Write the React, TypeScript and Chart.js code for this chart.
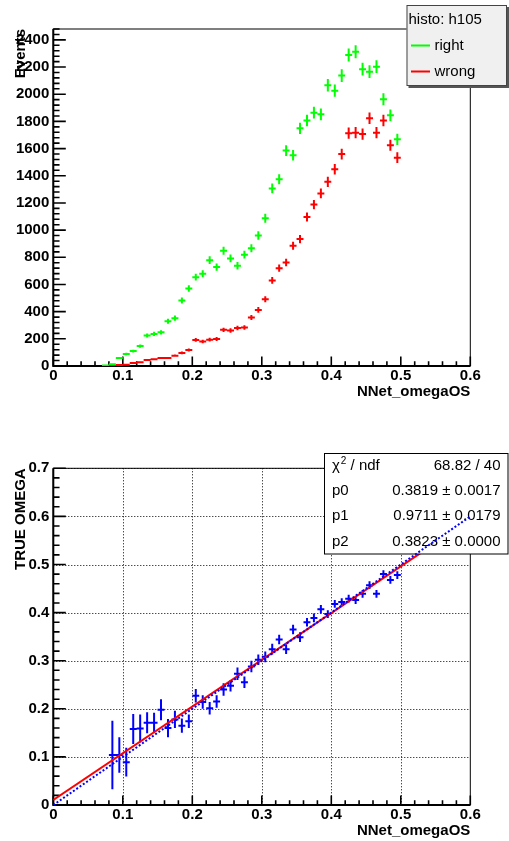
import React, { useEffect, useRef } from 'react';
import { Chart, registerables } from 'chart.js';

Chart.register(...registerables);

const FONT = '"Liberation Sans", Arial, Helvetica, sans-serif';

// ---------- data ----------
const binCenters = [
  0.075, 0.085, 0.095, 0.105, 0.115, 0.125, 0.135, 0.145, 0.155, 0.165, 0.175,
  0.185, 0.195, 0.205, 0.215, 0.225, 0.235, 0.245, 0.255, 0.265, 0.275, 0.285,
  0.295, 0.305, 0.315, 0.325, 0.335, 0.345, 0.355, 0.365, 0.375, 0.385, 0.395,
  0.405, 0.415, 0.425, 0.435, 0.445, 0.455, 0.465, 0.475, 0.485, 0.495,
];
const rightCounts = [
  3, 12, 59, 88, 110, 147, 224, 236, 248, 330, 352,
  482, 570, 654, 679, 779, 728, 848, 792, 738, 819, 866,
  961, 1087, 1307, 1374, 1585, 1551, 1749, 1806, 1864, 1852, 2066,
  2026, 2137, 2289, 2313, 2184, 2166, 2203, 1963, 1845, 1668,
];
const wrongCounts = [
  0, 2, 7, 10, 22, 27, 44, 49, 59, 59, 76,
  96, 118, 192, 180, 194, 199, 266, 261, 280, 283, 357,
  413, 492, 630, 720, 762, 885, 934, 1097, 1188, 1270, 1355,
  1448, 1560, 1713, 1717, 1707, 1823, 1717, 1806, 1624, 1533,
];

const omegaBins = [
  0.085, 0.095, 0.105, 0.115, 0.125, 0.135, 0.145, 0.155, 0.165, 0.175,
  0.185, 0.195, 0.205, 0.215, 0.225, 0.235, 0.245, 0.255, 0.265, 0.275, 0.285,
  0.295, 0.305, 0.315, 0.325, 0.335, 0.345, 0.355, 0.365, 0.375, 0.385, 0.395,
  0.405, 0.415, 0.425, 0.435, 0.445, 0.455, 0.465, 0.475, 0.485, 0.495,
];
const omegaValues = [
  0.104, 0.104, 0.089, 0.158, 0.159, 0.171, 0.171, 0.198, 0.160, 0.178,
  0.165, 0.174, 0.227, 0.214, 0.201, 0.215, 0.240, 0.248, 0.273, 0.255, 0.288,
  0.302, 0.308, 0.324, 0.344, 0.324, 0.365, 0.349, 0.380, 0.389, 0.407, 0.397,
  0.418, 0.422, 0.429, 0.426, 0.439, 0.457, 0.439, 0.480, 0.468, 0.478,
];
const omegaErrors = [
  0.071, 0.037, 0.030, 0.031, 0.029, 0.022, 0.021, 0.022, 0.019, 0.018,
  0.015, 0.014, 0.014, 0.014, 0.013, 0.013, 0.013, 0.012, 0.013, 0.012, 0.012,
  0.011, 0.011, 0.011, 0.010, 0.010, 0.010, 0.010, 0.009, 0.009, 0.009, 0.008,
  0.008, 0.008, 0.008, 0.008, 0.008, 0.008, 0.008, 0.008, 0.008, 0.008,
];

const fitLineX = [0, 0.6];
const fitLineY = [0.0106, 0.5933];
const refLineX = [0, 0.6];
const refLineY = [0, 0.6];

const xTickValues = [0, 0.1, 0.2, 0.3, 0.4, 0.5, 0.6];
const topYTickValues = [0, 200, 400, 600, 800, 1000, 1200, 1400, 1600, 1800, 2000, 2200, 2400];
const bottomYTickValues = [0, 0.1, 0.2, 0.3, 0.4, 0.5, 0.6, 0.7];

const xTitle = 'NNet_omegaOS';
const topYTitle = 'Events';
const bottomYTitle = 'TRUE OMEGA';
const legendHeader = 'histo: h105';
const legendLabels = ['right', 'wrong'];
const legendColors = ['#00ff00', '#ff0000'];
const chi2Label = 'ndf';
const chi2Value = '68.82 / 40';
const fitParamNames = ['p0', 'p1', 'p2'];
const fitParamValues = ['0.3819', '0.9711', '0.3823'];
const fitParamErrors = ['0.0017', '0.0179', '0.0000'];

// ---------- helpers ----------
const fmtDec = (v: number) => (v === 0 ? '0' : String(Math.round(v * 10) / 10));

function stepsBetween(min: number, max: number, step: number) {
  const n = Math.round((max - min) / step);
  const out: number[] = [];
  for (let i = 0; i <= n; i++) out.push(min + i * step);
  return out;
}

const framePlugin = {
  id: 'rootFrame',
  beforeDatasetsDraw(chart: any, _args: any, opts: any) {
    const { ctx, chartArea: a } = chart;
    const xs = chart.scales.x;
    const ys = chart.scales.y;
    ctx.save();
    if (opts.grid) {
      ctx.strokeStyle = '#000';
      ctx.lineWidth = 1;
      ctx.setLineDash([1, 2]);
      ctx.beginPath();
      for (const v of opts.xMajor) {
        if (v <= xs.min || v >= xs.max) continue;
        const px = Math.round(xs.getPixelForValue(v)) + 0.5;
        ctx.moveTo(px, a.top);
        ctx.lineTo(px, a.bottom);
      }
      for (const v of opts.yMajor) {
        if (v <= ys.min || v > ys.max) continue;
        const py = Math.round(ys.getPixelForValue(v)) + 0.5;
        ctx.moveTo(a.left, py);
        ctx.lineTo(a.right, py);
      }
      ctx.stroke();
      ctx.setLineDash([]);
    }
    ctx.strokeStyle = '#000';
    ctx.lineWidth = 1.6;
    ctx.beginPath();
    for (const v of stepsBetween(xs.min, xs.max, opts.xMinor)) {
      const major = opts.xMajor.some((m: number) => Math.abs(m - v) < opts.xMinor * 0.01);
      const len = major ? opts.xLen : opts.xLen / 2;
      const px = xs.getPixelForValue(v);
      ctx.moveTo(px, a.bottom);
      ctx.lineTo(px, a.bottom - len);
    }
    for (const v of stepsBetween(ys.min, ys.max, opts.yMinor)) {
      const major = opts.yMajor.some((m: number) => Math.abs(m - v) < opts.yMinor * 0.01);
      const len = major ? opts.yLen : opts.yLen / 2;
      const py = ys.getPixelForValue(v);
      ctx.moveTo(a.left, py);
      ctx.lineTo(a.left + len, py);
    }
    ctx.stroke();
    ctx.lineWidth = 1;
    ctx.strokeRect(a.left, a.top, a.right - a.left, a.bottom - a.top);
    ctx.lineWidth = 2;
    ctx.beginPath();
    ctx.moveTo(a.left, a.top);
    ctx.lineTo(a.left, a.bottom);
    ctx.lineTo(a.right, a.bottom);
    ctx.stroke();
    ctx.restore();
  },
};

const errorBarPlugin = {
  id: 'errorBars',
  afterDatasetDraw(chart: any, args: any) {
    const ds = chart.data.datasets[args.index];
    if (!ds.errY) return;
    const { ctx, chartArea: a } = chart;
    const xs = chart.scales.x;
    const ys = chart.scales.y;
    ctx.save();
    ctx.beginPath();
    ctx.rect(a.left, a.top, a.right - a.left, a.bottom - a.top);
    ctx.clip();
    ctx.strokeStyle = ds.borderColor;
    ctx.lineWidth = 2;
    ctx.beginPath();
    ds.data.forEach((p: any, i: number) => {
      if (p.y <= 0) return;
      const e = ds.errY[i];
      const px = xs.getPixelForValue(p.x);
      const py = ys.getPixelForValue(p.y);
      ctx.moveTo(xs.getPixelForValue(p.x - ds.halfWidth), py);
      ctx.lineTo(xs.getPixelForValue(p.x + ds.halfWidth), py);
      ctx.moveTo(px, ys.getPixelForValue(p.y + e));
      ctx.lineTo(px, ys.getPixelForValue(p.y - e));
    });
    ctx.stroke();
    ctx.restore();
  },
};

const legendPlugin = {
  id: 'rootLegend',
  afterDraw(chart: any) {
    const { ctx } = chart;
    const L = 406.5, T = 5, R = 507, B = 86;
    ctx.save();
    ctx.fillStyle = '#555';
    ctx.fillRect(L + 2, T + 2, R - L, B - T);
    ctx.fillStyle = '#f0f0f0';
    ctx.fillRect(L, T, R - L, B - T);
    ctx.strokeStyle = '#444';
    ctx.lineWidth = 1;
    ctx.strokeRect(L + 0.5, T + 0.5, R - L - 1, B - T - 1);
    ctx.fillStyle = '#000';
    ctx.font = `15px ${FONT}`;
    ctx.textBaseline = 'middle';
    ctx.textAlign = 'left';
    ctx.fillText(legendHeader, 408.5, 19.5);
    legendLabels.forEach((lab, i) => {
      const cy = 45.5 + i * 26;
      ctx.strokeStyle = legendColors[i];
      ctx.lineWidth = 2;
      ctx.beginPath();
      ctx.moveTo(411, cy);
      ctx.lineTo(430, cy);
      ctx.stroke();
      ctx.fillStyle = '#000';
      ctx.fillText(lab, 434.5, cy);
    });
    ctx.restore();
  },
};

const statsPlugin = {
  id: 'statsBox',
  afterDatasetDraw(chart: any, args: any, opts: any) {
    if (args.index !== opts.afterIndex) return;
    const { ctx } = chart;
    const L = 324.5, T = 33.5, R = 508, B = 134;
    ctx.save();
    ctx.fillStyle = '#fff';
    ctx.fillRect(L, T, R - L, B - T);
    ctx.strokeStyle = '#000';
    ctx.lineWidth = 1;
    ctx.strokeRect(L, T, R - L, B - T);
    const rowH = (B - T) / 4;
    ctx.fillStyle = '#000';
    ctx.textBaseline = 'middle';
    ctx.font = `15px ${FONT}`;
    // chi2 row
    let cy = T + rowH * 0.5;
    ctx.textAlign = 'left';
    ctx.fillText('\u03c7', 332, cy);
    const wChi = ctx.measureText('\u03c7').width;
    ctx.font = `10px ${FONT}`;
    ctx.fillText('2', 332 + wChi + 1, cy - 5);
    const w2 = ctx.measureText('2').width;
    ctx.font = `15px ${FONT}`;
    ctx.fillText(' / ' + chi2Label, 332 + wChi + 1 + w2, cy);
    ctx.textAlign = 'right';
    ctx.fillText(chi2Value, 500.5, cy);
    fitParamNames.forEach((nm, i) => {
      cy = T + rowH * (i + 1.5);
      ctx.textAlign = 'left';
      ctx.fillText(nm, 332, cy);
      ctx.textAlign = 'right';
      ctx.fillText(`${fitParamValues[i]} \u00b1 ${fitParamErrors[i]}`, 500.5, cy);
    });
    ctx.restore();
  },
};

function xAxis(height: number, titlePad: number) {
  return {
    type: 'linear',
    min: 0,
    max: 0.6,
    afterBuildTicks: (s: any) => {
      s.ticks = xTickValues.map((v) => ({ value: v }));
    },
    afterFit: (s: any) => {
      s.height = height;
    },
    grid: { display: false, drawTicks: false },
    border: { display: false },
    ticks: {
      padding: 1,
      color: '#000',
      maxRotation: 0,
      autoSkip: false,
      font: { family: FONT, size: 15, weight: 'bold' },
      callback: (v: number) => fmtDec(v),
    },
    title: {
      display: true,
      text: xTitle,
      align: 'end',
      color: '#000',
      font: { family: FONT, size: 15, weight: 'bold' },
      padding: { top: 0, bottom: titlePad },
    },
  };
}

function yAxis(min: number, max: number, tickVals: number[], title: string, fmt: (v: number) => string) {
  return {
    type: 'linear',
    min,
    max,
    afterBuildTicks: (s: any) => {
      s.ticks = tickVals.map((v) => ({ value: v }));
    },
    afterFit: (s: any) => {
      s.width = 53.3;
    },
    grid: { display: false, drawTicks: false },
    border: { display: false },
    ticks: {
      padding: 4,
      color: '#000',
      autoSkip: false,
      font: { family: FONT, size: 15, weight: 'bold' },
      callback: (v: number) => fmt(v),
    },
    title: {
      display: true,
      text: title,
      align: 'end',
      color: '#000',
      font: { family: FONT, size: 15, weight: 'bold' },
      padding: { top: 11.5, bottom: 0 },
    },
  };
}

export default function App() {
  const topRef = useRef<HTMLCanvasElement>(null);
  const botRef = useRef<HTMLCanvasElement>(null);

  useEffect(() => {
    document.body.style.margin = '0';
    const top = new Chart(topRef.current as HTMLCanvasElement, {
      type: 'scatter',
      data: {
        datasets: [
          {
            label: legendLabels[0],
            data: binCenters.map((x, i) => ({ x, y: rightCounts[i] })),
            borderColor: legendColors[0],
            backgroundColor: legendColors[0],
            pointRadius: 0,
            showLine: false,
            errY: rightCounts.map((v) => Math.sqrt(v)),
            halfWidth: 0.005,
          } as any,
          {
            label: legendLabels[1],
            data: binCenters.map((x, i) => ({ x, y: wrongCounts[i] })),
            borderColor: legendColors[1],
            backgroundColor: legendColors[1],
            pointRadius: 0,
            showLine: false,
            errY: wrongCounts.map((v) => Math.sqrt(v)),
            halfWidth: 0.005,
          } as any,
        ],
      },
      options: {
        animation: false,
        responsive: false,
        maintainAspectRatio: false,
        events: [],
        layout: { padding: { top: 29, right: 38.7, left: 0, bottom: 0 } },
        plugins: {
          legend: { display: false },
          tooltip: { enabled: false },
          rootFrame: {
            grid: false,
            xMajor: xTickValues,
            yMajor: topYTickValues,
            xMinor: 0.02,
            yMinor: 40,
            xLen: 9.5,
            yLen: 12.5,
          },
        } as any,
        scales: {
          x: xAxis(54, 18.7),
          y: yAxis(0, 2480, topYTickValues, topYTitle, (v) => String(v)),
        } as any,
      },
      plugins: [framePlugin, errorBarPlugin, legendPlugin],
    });

    const bot = new Chart(botRef.current as HTMLCanvasElement, {
      type: 'scatter',
      data: {
        datasets: [
          {
            label: 'reference',
            data: refLineX.map((x, i) => ({ x, y: refLineY[i] })),
            borderColor: '#0000ff',
            borderWidth: 2,
            borderDash: [2, 2],
            pointRadius: 0,
            showLine: true,
            tension: 0,
          } as any,
          {
            label: 'fit',
            data: fitLineX.map((x, i) => ({ x, y: fitLineY[i] })),
            borderColor: '#ff0000',
            borderWidth: 2,
            pointRadius: 0,
            showLine: true,
            tension: 0,
          } as any,
          {
            label: 'omega',
            data: omegaBins.map((x, i) => ({ x, y: omegaValues[i] })),
            borderColor: '#0000ff',
            backgroundColor: '#0000ff',
            pointRadius: 0,
            showLine: false,
            errY: omegaErrors,
            halfWidth: 0.005,
          } as any,
        ],
      },
      options: {
        animation: false,
        responsive: false,
        maintainAspectRatio: false,
        events: [],
        layout: { padding: { top: 48.3, right: 38.7, left: 0, bottom: 0 } },
        plugins: {
          legend: { display: false },
          tooltip: { enabled: false },
          rootFrame: {
            grid: true,
            xMajor: xTickValues,
            yMajor: bottomYTickValues,
            xMinor: 0.02,
            yMinor: 0.02,
            xLen: 9.5,
            yLen: 12.5,
          },
          statsBox: { afterIndex: 1 },
        } as any,
        scales: {
          x: xAxis(36, 1.3),
          y: yAxis(0, 0.7, bottomYTickValues, bottomYTitle, fmtDec),
        } as any,
      },
      plugins: [framePlugin, errorBarPlugin, statsPlugin],
    });

    return () => {
      top.destroy();
      bot.destroy();
    };
  }, []);

  return (
    <div style={{ position: 'relative', width: 509, height: 841, background: '#fff' }}>
      <canvas ref={topRef} width={509} height={420} style={{ position: 'absolute', left: 0, top: 0, display: 'block' }} />
      <canvas ref={botRef} width={509} height={421} style={{ position: 'absolute', left: 0, top: 420, display: 'block' }} />
    </div>
  );
}
